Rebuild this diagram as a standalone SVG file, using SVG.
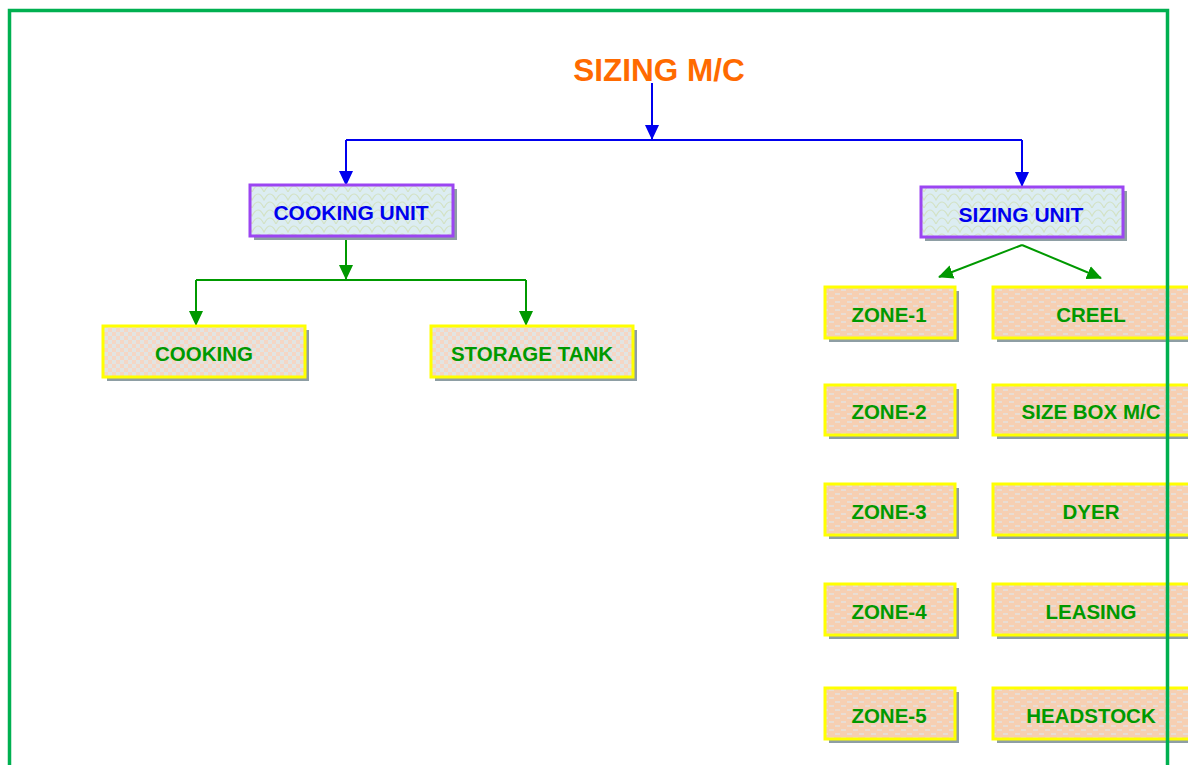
<svg xmlns="http://www.w3.org/2000/svg" width="1188" height="765" viewBox="0 0 1188 765">
<defs>
<pattern id="scale" width="24" height="16" patternUnits="userSpaceOnUse">
<rect width="24" height="16" fill="#DCEDF2"/>
<path d="M0 16 Q6 4 12 16 Q18 4 24 16 M-12 8 Q-6 -4 0 8 Q6 -4 12 8 Q18 -4 24 8 Q30 -4 36 8" fill="none" stroke="#D3E2C4" stroke-width="1.2"/>
</pattern>
<pattern id="check" width="8" height="8" patternUnits="userSpaceOnUse">
<rect width="8" height="8" fill="#F5D6C4"/>
<rect width="4" height="4" fill="#E2E4E2"/>
<rect x="4" y="4" width="4" height="4" fill="#E2E4E2"/>
</pattern>
<pattern id="dots" width="12" height="8" patternUnits="userSpaceOnUse">
<rect width="12" height="8" fill="#F6CFB2"/>
<rect x="1" y="1" width="5" height="2" fill="#E8DDD4"/>
<rect x="7" y="5" width="5" height="2" fill="#E8DDD4"/>
</pattern>
<marker id="ab" markerWidth="16" markerHeight="16" refX="14" refY="8" orient="auto" markerUnits="userSpaceOnUse"><path d="M0 1 L15 8 L0 15 Z" fill="#0000EE"/></marker>
<marker id="ag" markerWidth="16" markerHeight="16" refX="14" refY="8" orient="auto" markerUnits="userSpaceOnUse"><path d="M0 1 L15 8 L0 15 Z" fill="#009900"/></marker>
</defs>
<style>
.t{font-family:"Liberation Sans",Arial,sans-serif;font-weight:bold;text-anchor:middle;dominant-baseline:central}
.unit rect.b{fill:url(#scale);stroke:#9B45F2;stroke-width:3}
.leaf rect.b{stroke:#FFFF00;stroke-width:3}
.sh{fill:#8E9EA4}
.ut{fill:#0000EE;font-size:21px}
.lt{fill:#009900;font-size:20.5px}
.cb{fill:none;stroke:#0000EE;stroke-width:2}
.cg{fill:none;stroke:#009900;stroke-width:2}
</style>
<rect width="1188" height="765" fill="#FFFFFF"/>
<text class="t" x="659" y="70" style="fill:#FF6A00;font-size:31.5px">SIZING M/C</text>

<g id="connectors">
<path class="cb" d="M652 83 V139" marker-end="url(#ab)"/>
<path class="cb" d="M346 140 H1022"/>
<path class="cb" d="M346 140 V185" marker-end="url(#ab)"/>
<path class="cb" d="M1022 140 V186" marker-end="url(#ab)"/>
<path class="cg" d="M346 236 V279" marker-end="url(#ag)"/>
<path class="cg" d="M196 280 H526"/>
<path class="cg" d="M196 280 V325" marker-end="url(#ag)"/>
<path class="cg" d="M526 280 V325" marker-end="url(#ag)"/>
<path class="cg" d="M1022 245 L939 277" marker-end="url(#ag)"/>
<path class="cg" d="M1022 245 L1101 278" marker-end="url(#ag)"/>
</g>

<g id="cooking-unit" class="unit"><rect class="sh" x="254" y="189" width="203" height="51"/><rect class="b" x="250" y="185" width="203" height="51"/><text class="t ut" x="351" y="212">COOKING UNIT</text></g>
<g id="sizing-unit" class="unit"><rect class="sh" x="925" y="191" width="202" height="50"/><rect class="b" x="921" y="187" width="202" height="50"/><text class="t ut" x="1021" y="214">SIZING UNIT</text></g>

<g id="cooking" class="leaf"><rect class="sh" x="107" y="330" width="202" height="51"/><rect class="b" x="103" y="326" width="202" height="51" fill="url(#check)"/><text class="t lt" x="204" y="353">COOKING</text></g>
<g id="storage-tank" class="leaf"><rect class="sh" x="435" y="330" width="202" height="51"/><rect class="b" x="431" y="326" width="202" height="51" fill="url(#check)"/><text class="t lt" x="532" y="353">STORAGE TANK</text></g>

<g id="zone-1" class="leaf"><rect class="sh" x="829" y="291" width="130" height="51"/><rect class="b" x="825" y="287" width="130" height="51" fill="url(#dots)"/><text class="t lt" x="889" y="314">ZONE-1</text></g>
<g id="zone-2" class="leaf"><rect class="sh" x="829" y="389" width="130" height="50"/><rect class="b" x="825" y="385" width="130" height="50" fill="url(#dots)"/><text class="t lt" x="889" y="411">ZONE-2</text></g>
<g id="zone-3" class="leaf"><rect class="sh" x="829" y="488" width="130" height="51"/><rect class="b" x="825" y="484" width="130" height="51" fill="url(#dots)"/><text class="t lt" x="889" y="511">ZONE-3</text></g>
<g id="zone-4" class="leaf"><rect class="sh" x="829" y="588" width="130" height="51"/><rect class="b" x="825" y="584" width="130" height="51" fill="url(#dots)"/><text class="t lt" x="889" y="611">ZONE-4</text></g>
<g id="zone-5" class="leaf"><rect class="sh" x="829" y="692" width="130" height="51"/><rect class="b" x="825" y="688" width="130" height="51" fill="url(#dots)"/><text class="t lt" x="889" y="715">ZONE-5</text></g>

<g id="creel" class="leaf"><rect class="sh" x="997" y="291" width="200" height="51"/><rect class="b" x="993" y="287" width="200" height="51" fill="url(#dots)"/><text class="t lt" x="1091" y="314">CREEL</text></g>
<g id="size-box" class="leaf"><rect class="sh" x="997" y="389" width="200" height="50"/><rect class="b" x="993" y="385" width="200" height="50" fill="url(#dots)"/><text class="t lt" x="1091" y="411">SIZE BOX M/C</text></g>
<g id="dyer" class="leaf"><rect class="sh" x="997" y="488" width="200" height="51"/><rect class="b" x="993" y="484" width="200" height="51" fill="url(#dots)"/><text class="t lt" x="1091" y="511">DYER</text></g>
<g id="leasing" class="leaf"><rect class="sh" x="997" y="588" width="200" height="51"/><rect class="b" x="993" y="584" width="200" height="51" fill="url(#dots)"/><text class="t lt" x="1091" y="611">LEASING</text></g>
<g id="headstock" class="leaf"><rect class="sh" x="997" y="692" width="200" height="51"/><rect class="b" x="993" y="688" width="200" height="51" fill="url(#dots)"/><text class="t lt" x="1091" y="715">HEADSTOCK</text></g>

<path d="M9.5 768 V10.5 H1167.5 V768" fill="none" stroke="#00B050" stroke-width="3.5"/>
</svg>
